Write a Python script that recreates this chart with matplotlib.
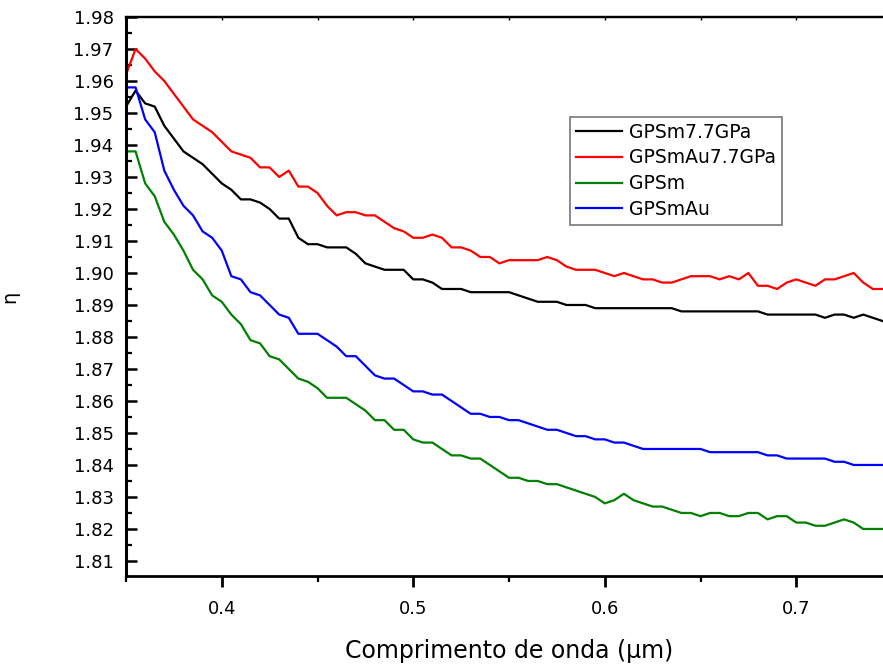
import numpy as np
import matplotlib
matplotlib.use("Agg")
import matplotlib.pyplot as plt
from matplotlib.ticker import MultipleLocator, FormatStrFormatter

# wavelength grid (um), 0.005 um steps
wavelength = np.round(np.arange(80) * 0.005 + 0.35, 3)

gpsm_77 = [1.952, 1.957, 1.953, 1.952, 1.946, 1.942, 1.938, 1.936, 1.934, 1.931,
           1.928, 1.926, 1.923, 1.923, 1.922, 1.920, 1.917, 1.917, 1.911, 1.909,
           1.909, 1.908, 1.908, 1.908, 1.906, 1.903, 1.902, 1.901, 1.901, 1.901,
           1.898, 1.898, 1.897, 1.895, 1.895, 1.895, 1.894, 1.894, 1.894, 1.894,
           1.894, 1.893, 1.892, 1.891, 1.891, 1.891, 1.890, 1.890, 1.890, 1.889,
           1.889, 1.889, 1.889, 1.889, 1.889, 1.889, 1.889, 1.889, 1.888, 1.888,
           1.888, 1.888, 1.888, 1.888, 1.888, 1.888, 1.888, 1.887, 1.887, 1.887,
           1.887, 1.887, 1.887, 1.886, 1.887, 1.887, 1.886, 1.887, 1.886, 1.885]

gpsmau_77 = [1.962, 1.970, 1.967, 1.963, 1.960, 1.956, 1.952, 1.948, 1.946, 1.944,
             1.941, 1.938, 1.937, 1.936, 1.933, 1.933, 1.930, 1.932, 1.927, 1.927,
             1.925, 1.921, 1.918, 1.919, 1.919, 1.918, 1.918, 1.916, 1.914, 1.913,
             1.911, 1.911, 1.912, 1.911, 1.908, 1.908, 1.907, 1.905, 1.905, 1.903,
             1.904, 1.904, 1.904, 1.904, 1.905, 1.904, 1.902, 1.901, 1.901, 1.901,
             1.900, 1.899, 1.900, 1.899, 1.898, 1.898, 1.897, 1.897, 1.898, 1.899,
             1.899, 1.899, 1.898, 1.899, 1.898, 1.900, 1.896, 1.896, 1.895, 1.897,
             1.898, 1.897, 1.896, 1.898, 1.898, 1.899, 1.900, 1.897, 1.895, 1.895]

gpsm = [1.938, 1.938, 1.928, 1.924, 1.916, 1.912, 1.907, 1.901, 1.898, 1.893,
        1.891, 1.887, 1.884, 1.879, 1.878, 1.874, 1.873, 1.870, 1.867, 1.866,
        1.864, 1.861, 1.861, 1.861, 1.859, 1.857, 1.854, 1.854, 1.851, 1.851,
        1.848, 1.847, 1.847, 1.845, 1.843, 1.843, 1.842, 1.842, 1.840, 1.838,
        1.836, 1.836, 1.835, 1.835, 1.834, 1.834, 1.833, 1.832, 1.831, 1.830,
        1.828, 1.829, 1.831, 1.829, 1.828, 1.827, 1.827, 1.826, 1.825, 1.825,
        1.824, 1.825, 1.825, 1.824, 1.824, 1.825, 1.825, 1.823, 1.824, 1.824,
        1.822, 1.822, 1.821, 1.821, 1.822, 1.823, 1.822, 1.820, 1.820, 1.820]

gpsmau = [1.958, 1.958, 1.948, 1.944, 1.932, 1.926, 1.921, 1.918, 1.913, 1.911,
          1.907, 1.899, 1.898, 1.894, 1.893, 1.890, 1.887, 1.886, 1.881, 1.881,
          1.881, 1.879, 1.877, 1.874, 1.874, 1.871, 1.868, 1.867, 1.867, 1.865,
          1.863, 1.863, 1.862, 1.862, 1.860, 1.858, 1.856, 1.856, 1.855, 1.855,
          1.854, 1.854, 1.853, 1.852, 1.851, 1.851, 1.850, 1.849, 1.849, 1.848,
          1.848, 1.847, 1.847, 1.846, 1.845, 1.845, 1.845, 1.845, 1.845, 1.845,
          1.845, 1.844, 1.844, 1.844, 1.844, 1.844, 1.844, 1.843, 1.843, 1.842,
          1.842, 1.842, 1.842, 1.842, 1.841, 1.841, 1.840, 1.840, 1.840, 1.840]

series = [
    ("GPSm7.7GPa", gpsm_77, "#000000"),
    ("GPSmAu7.7GPa", gpsmau_77, "#ff0000"),
    ("GPSm", gpsm, "#008000"),
    ("GPSmAu", gpsmau, "#0000ff"),
]

plt.rcParams["font.family"] = ["DejaVu Sans"]

W, H = 883, 666
fig = plt.figure(figsize=(W / 100, H / 100), dpi=100)
ax = fig.add_axes([126 / W, 90 / H, 757 / W, 559 / H])

for label, values, color in series:
    ax.plot(wavelength, values, color=color, lw=1.6, label=label)

ax.set_xlim(0.35, 0.35 + 757 / 1915)
ax.set_ylim(1.8053, 1.98)

ax.xaxis.set_major_locator(MultipleLocator(0.1))
ax.xaxis.set_minor_locator(MultipleLocator(0.05))
ax.xaxis.set_major_formatter(FormatStrFormatter("%.1f"))
ax.yaxis.set_major_locator(MultipleLocator(0.01))
ax.yaxis.set_minor_locator(MultipleLocator(0.005))
ax.yaxis.set_major_formatter(FormatStrFormatter("%.2f"))

ax.tick_params(axis="x", which="major", direction="out", length=8, width=2,
               labelsize=13, pad=9, top=False)
ax.tick_params(axis="x", which="minor", direction="out", length=4.5, width=1.6,
               top=False)
ax.tick_params(axis="y", which="major", direction="in", length=8, width=1.8,
               labelsize=13, pad=9, right=False)
ax.tick_params(axis="y", which="minor", direction="in", length=4.5, width=1.6,
               right=False)

# faint tick marks along the top edge every 0.05 um
top = ax.secondary_xaxis("top")
top.xaxis.set_major_locator(MultipleLocator(0.05))
top.tick_params(direction="in", length=2.0, width=1.0, labeltop=False)
top.spines["top"].set_linewidth(1.6)

ax.spines["right"].set_visible(False)
ax.spines["left"].set_linewidth(2.2)
ax.spines["bottom"].set_linewidth(2.0)
ax.spines["top"].set_linewidth(1.6)

ax.set_xlabel("Comprimento de onda (\u03bcm)", fontsize=17)
ax.xaxis.set_label_coords(0.506, -0.113)
ax.set_ylabel("\u03b7", fontsize=14)
ax.yaxis.set_label_coords(-0.141, 0.5)

leg = ax.legend(loc="upper left", bbox_to_anchor=(570 / W, 1 - 117 / H),
                bbox_transform=fig.transFigure, fontsize=13.5, frameon=True,
                fancybox=False, handlelength=2.45, handletextpad=0.4,
                labelspacing=0.36, borderpad=0.3, borderaxespad=0)
leg.get_frame().set_edgecolor("#555555")
leg.get_frame().set_linewidth(1.2)

fig.savefig("out.png", dpi=100)
